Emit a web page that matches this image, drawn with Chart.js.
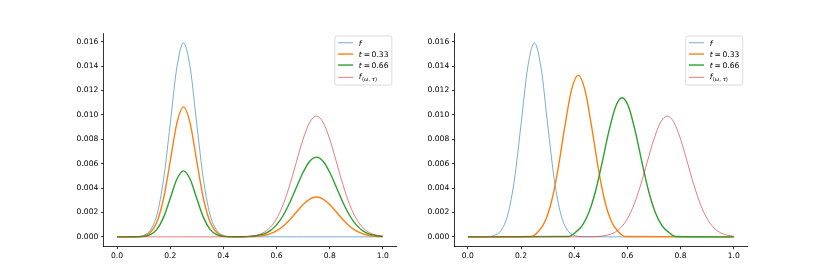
<!DOCTYPE html>
<html>
<head>
<meta charset="utf-8">
<script src="https://cdn.jsdelivr.net/npm/chart.js@4.4.0/dist/chart.umd.min.js"></script>
<style>
  html, body { margin: 0; padding: 0; background: #fff; }
  #wrap { position: relative; width: 830px; height: 277px; }
  canvas { position: absolute; top: 0; }
</style>
</head>
<body>
<div id="wrap">
  <canvas id="left" width="415" height="277" style="left:0"></canvas>
  <canvas id="right" width="415" height="277" style="left:415px"></canvas>
</div>
<script>
// shared x grid for f and f_(w,t)
const xs = [0, 0.025, 0.05, 0.075, 0.1, 0.125, 0.15, 0.175, 0.2, 0.225,
  0.25, 0.275, 0.3, 0.325, 0.35, 0.375, 0.4, 0.425, 0.45, 0.475,
  0.5, 0.525, 0.55, 0.575, 0.6, 0.625, 0.65, 0.675, 0.7, 0.725,
  0.75, 0.775, 0.8, 0.825, 0.85, 0.875, 0.9, 0.925, 0.95, 0.975, 1.0];

const fVals = [0, 0.0000003, 0.0000027, 0.0000206, 0.0001204, 0.000535, 0.001815, 0.004691, 0.009243, 0.013884,
  0.0159, 0.013884, 0.009243, 0.004691, 0.001815, 0.000535, 0.0001204, 0.0000206, 0.0000027, 0.0000003,
  0, 0, 0, 0, 0, 0, 0, 0, 0, 0,
  0, 0, 0, 0, 0, 0, 0, 0, 0, 0, 0];

const gVals = [0, 0, 0, 0, 0, 0, 0, 0, 0, 0,
  0, 0, 0, 0, 0, 0, 0.0000003, 0.0000013, 0.000005, 0.0000168,
  0.0000509, 0.0001385, 0.000339, 0.000748, 0.001484, 0.00265, 0.00426, 0.006161, 0.008018, 0.009392,
  0.0099, 0.009392, 0.008018, 0.006161, 0.00426, 0.00265, 0.001484, 0.000748, 0.000339, 0.0001385, 0.0000509];

// left panel: mixtures
const mix33 = [0, 0.0000002, 0.0000018, 0.0000138, 0.0000807, 0.000358, 0.001216, 0.003143, 0.006193, 0.009302,
  0.010653, 0.009302, 0.006193, 0.003143, 0.001216, 0.000358, 0.0000808, 0.0000142, 0.0000035, 0.0000057,
  0.0000168, 0.0000457, 0.000112, 0.000247, 0.00049, 0.000875, 0.001406, 0.002033, 0.002646, 0.003099,
  0.003267, 0.003099, 0.002646, 0.002033, 0.001406, 0.000875, 0.00049, 0.000247, 0.000112, 0.0000457, 0.0000168];

const mix66 = [0, 0.0000001, 0.0000009, 0.000007, 0.0000409, 0.000182, 0.000617, 0.001595, 0.003143, 0.004721,
  0.005406, 0.004721, 0.003143, 0.001595, 0.000617, 0.000182, 0.0000411, 0.0000079, 0.0000042, 0.0000112,
  0.0000336, 0.0000914, 0.000224, 0.000494, 0.000979, 0.001749, 0.002812, 0.004066, 0.005292, 0.006199,
  0.006534, 0.006199, 0.005292, 0.004066, 0.002812, 0.001749, 0.000979, 0.000494, 0.000224, 0.0000914, 0.0000336];

// right panel: displacement interpolation
const disp33X = [0, 0.24, 0.265, 0.29, 0.315, 0.34, 0.365, 0.39, 0.415, 0.44, 0.465, 0.49, 0.515, 0.54, 0.565, 0.59, 1.0];
const disp33Y = [0, 0.00003, 0.000446, 0.001259, 0.002938, 0.005681, 0.009098, 0.012068, 0.01326, 0.012068,
  0.009098, 0.005681, 0.002938, 0.001259, 0.000446, 0.00003, 0];

const disp66X = [0, 0.38, 0.405, 0.43, 0.455, 0.48, 0.505, 0.53, 0.555, 0.58, 0.605, 0.63, 0.655, 0.68, 0.705, 0.73, 0.755, 0.78, 1.0];
const disp66Y = [0, 0.00003, 0.000375, 0.000927, 0.001996, 0.003737, 0.006088, 0.008626, 0.010633, 0.0114,
  0.010633, 0.008626, 0.006088, 0.003737, 0.001996, 0.000927, 0.000375, 0.00003, 0];

const xTicks = [0, 0.2, 0.4, 0.6, 0.8, 1.0];
const yTicks = [0, 0.002, 0.004, 0.006, 0.008, 0.010, 0.012, 0.014, 0.016];
const labels = ['f', 't = 0.33', 't = 0.66', 'f(ω, τ)'];

// mathtext-ish pieces for the legend: i = italic, n = normal, s = subscript, si = italic subscript
const legendPieces = [
  [['f', 'i']],
  [['t', 'i'], ['\u2009=\u20090.33', 'n']],
  [['t', 'i'], ['\u2009=\u20090.66', 'n']],
  [['f', 'i'], ['(', 's'], ['ω', 'si'], [', ', 's'], ['τ', 'si'], [')', 's']]
];

const FONT = '"DejaVu Sans"';
const blue = 'rgba(31,119,180,0.6)';
const orange = '#ff7f0e';
const green = '#2ca02c';
const red = 'rgba(214,39,40,0.6)';

function ds(label, xArr, yArr, color, width, order) {
  return {
    label: label,
    data: xArr.map((x, i) => ({ x: x, y: yArr[i] })),
    borderColor: color,
    borderWidth: width,
    order: order,
    fill: false,
    pointRadius: 0
  };
}

function drawPieces(ctx, pieces, x, y) {
  pieces.forEach(p => {
    const sub = p[1] === 's' || p[1] === 'si';
    const ital = p[1] === 'i' || p[1] === 'si';
    ctx.font = (ital ? 'italic ' : '') + (sub ? '5.3px ' : '7.6px ') + FONT;
    ctx.fillText(p[0], x, sub ? y + 1.8 : y);
    x += ctx.measureText(p[0]).width + (p[1] === 'i' && !sub ? 0.4 : 0);
  });
}

const legendPlugin = {
  id: 'mplLegend',
  afterDatasetsDraw(chart) {
    const ctx = chart.ctx, a = chart.chartArea;
    const w = 57, h = 49;
    const x0 = a.right - 4.3 - w, y0 = a.top + 2.8;
    ctx.save();
    ctx.beginPath();
    ctx.roundRect(x0, y0, w, h, 2);
    ctx.fillStyle = 'rgba(255,255,255,0.8)';
    ctx.fill();
    ctx.strokeStyle = '#d3d3d3';
    ctx.lineWidth = 0.8;
    ctx.stroke();
    const rowY = [6.7, 18, 29, 41.3];
    const baseOff = [2.9, 2.75, 2.75, 1.8];
    chart.data.datasets.forEach((d, i) => {
      const y = y0 + rowY[i];
      ctx.beginPath();
      ctx.moveTo(x0 + 3.3, y);
      ctx.lineTo(x0 + 18.3, y);
      ctx.strokeStyle = d.borderColor;
      ctx.lineWidth = d.borderWidth;
      ctx.stroke();
      ctx.fillStyle = '#000';
      ctx.textBaseline = 'alphabetic';
      drawPieces(ctx, legendPieces[i], x0 + 24, y + baseOff[i]);
    });
    ctx.restore();
  }
};

function makeChart(id, datasets, leftW, rightPad) {
  const axisCommon = {
    type: 'linear',
    grid: { display: true, drawOnChartArea: false, drawTicks: true, tickLength: 2.7, tickWidth: 0.8, tickColor: '#000' },
    border: { display: true, color: '#000', width: 0.8 }
  };
  return new Chart(document.getElementById(id), {
    type: 'line',
    data: { datasets: datasets },
    options: {
      responsive: false,
      animation: false,
      devicePixelRatio: 1,
      layout: { padding: { left: 0, right: rightPad, top: 33.24, bottom: 0 } },
      plugins: { legend: { display: false }, tooltip: { enabled: false } },
      elements: { line: { cubicInterpolationMode: 'monotone' }, point: { radius: 0 } },
      scales: {
        x: Object.assign({}, axisCommon, {
          min: -0.05, max: 1.05,
          afterBuildTicks: s => { s.ticks = xTicks.map(v => ({ value: v })); },
          afterFit: s => { s.height = 30.47; },
          ticks: { padding: 2.7, color: '#000', font: { family: FONT, size: 7.6 }, maxRotation: 0, callback: v => v.toFixed(1) }
        }),
        y: Object.assign({}, axisCommon, {
          min: -0.000795, max: 0.016695,
          afterBuildTicks: s => { s.ticks = yTicks.map(v => ({ value: v })); },
          afterFit: s => { s.width = leftW; },
          ticks: { padding: 2.7, color: '#000', font: { family: FONT, size: 7.6 }, callback: v => v.toFixed(3) }
        })
      }
    },
    plugins: [legendPlugin]
  });
}

makeChart('left', [
  ds(labels[0], xs, fVals, blue, 1, 4),
  ds(labels[1], xs, mix33, orange, 1.4, 3),
  ds(labels[2], xs, mix66, green, 1.4, 2),
  ds(labels[3], xs, gVals, red, 1, 1)
], 103.75, 18.86);

makeChart('right', [
  ds(labels[0], xs, fVals, blue, 1, 4),
  ds(labels[1], disp33X, disp33Y, orange, 1.4, 3),
  ds(labels[2], disp66X, disp66Y, green, 1.4, 2),
  ds(labels[3], xs, gVals, red, 1, 1)
], 39.62, 83);
</script>
</body>
</html>
